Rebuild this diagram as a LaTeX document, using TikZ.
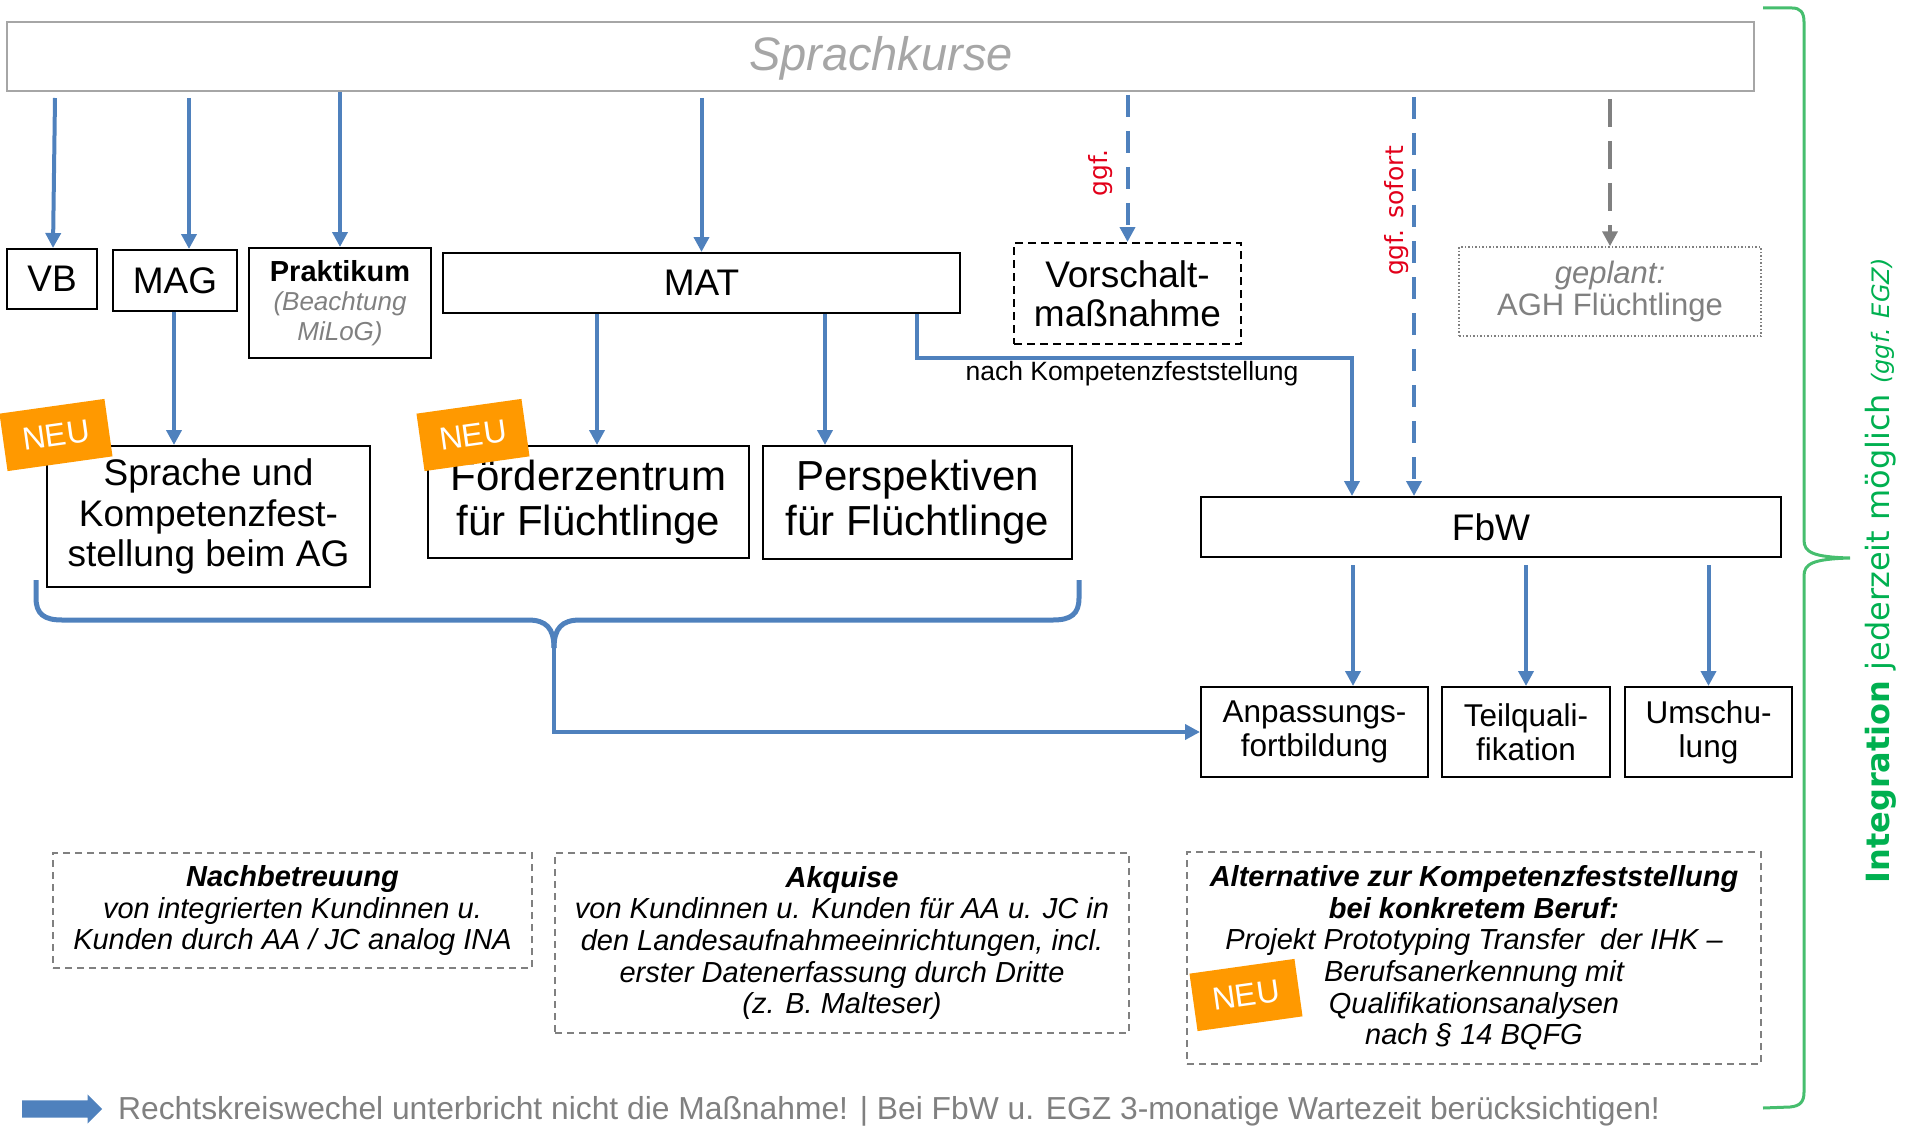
\documentclass[tikz,border=0pt]{standalone}
\usepackage{fontspec}
\setmainfont{Liberation Sans}
\newfontfamily\dvs{DejaVu Sans}
\usetikzlibrary{arrows.meta,shapes.arrows,calc}
\definecolor{myblue}{RGB}{79,129,189}
\definecolor{myorange}{RGB}{255,153,0}
\definecolor{myred}{RGB}{226,0,26}
\definecolor{mygreen}{RGB}{0,176,80}
\definecolor{bracegreen}{RGB}{70,190,110}
\definecolor{lgray}{RGB}{166,166,166}
\definecolor{dgray}{RGB}{128,128,128}
\newcommand\myfs[2]{\fontsize{#1}{#2}\selectfont}
\begin{document}
\begin{tikzpicture}[x=1pt,y=-1pt,
  box/.style={draw=black, line width=2pt, inner sep=1pt, align=center, text=black},
  arr/.style={draw=myblue, line width=4pt, -{Triangle[length=15pt,width=15pt]}},
  darr/.style={arr, dash pattern=on 22pt off 14pt},
  garr/.style={draw=dgray, line width=4pt, dash pattern=on 28pt off 14pt, -{Triangle[length=15pt,width=15pt]}},
  neu/.style={fill=myorange, text=white, minimum width=106pt, minimum height=58pt, inner sep=0pt, rotate=8, font=\myfs{32}{36}},
  infobox/.style={draw=dgray, line width=2pt, dash pattern=on 7pt off 5pt, align=center, inner sep=1pt, font=\itshape\myfs{29}{31.6}},
  redlab/.style={text=myred, rotate=90, font=\dvs\myfs{25}{28}},
  blueline/.style={draw=myblue, line width=5pt, line join=round}
]
\useasboundingbox (0,0) rectangle (1905,1126);

% top box
\node[draw=lgray, line width=2pt, minimum width=1747pt, minimum height=69pt, inner sep=0pt] (sprach) at (880.5,56.5) {};
\node[text=lgray, font=\itshape\myfs{47}{50}] (sprachtxt) at (881,58) {Sprachkurse};

% row 1
\node[box, minimum width=90pt, minimum height=60pt, font=\myfs{37}{40}] (vb) at (52,279) {VB};
\node[box, minimum width=124pt, minimum height=61pt, font=\myfs{37}{40}] (mag) at (175,280.5) {MAG};
\node[box, minimum width=182pt, minimum height=110pt, font=\myfs{29}{29.5}] (prak) at (340,303) {\textbf{Praktikum}\\{\color{dgray}\itshape\myfs{26}{29.5}(Beachtung}\\{\color{dgray}\itshape\myfs{26}{29.5}MiLoG)}};
\node[box, minimum width=517pt, minimum height=60pt, font=\myfs{37}{40}] (mat) at (701.5,283) {MAT};
\node[box, dash pattern=on 8pt off 5pt, minimum width=227pt, minimum height=101pt, font=\myfs{37}{39}] (vor) at (1127.5,293.5) {Vorschalt-\\maßnahme};
\node[draw=dgray, line width=1.5pt, dotted, minimum width=302pt, minimum height=89pt, align=center, text=dgray, font=\myfs{31}{32}] (gepl) at (1610,291.5) {\itshape geplant:\\AGH Flüchtlinge};

% row 2
\node[box, minimum width=323pt, minimum height=141pt, font=\myfs{37}{40.7}] (sprache) at (208.5,516.5) {Sprache und\\Kompetenzfest-\\stellung beim AG};
\node[box, minimum width=321pt, minimum height=112pt, font=\myfs{42}{45}] (foerder) at (588.5,502) {Förderzentrum\\für Flüchtlinge};
\node[box, minimum width=309pt, minimum height=113pt, font=\myfs{42}{45}] (persp) at (917.5,502.5) {Perspektiven\\für Flüchtlinge};
\node[box, minimum width=580pt, minimum height=60pt, font=\myfs{37}{40}] (fbw) at (1491,527) {FbW};

% row 3
\node[box, minimum width=227pt, minimum height=90pt, font=\myfs{31.5}{34}] (anp) at (1314.5,732) {Anpassungs-\\fortbildung};
\node[box, minimum width=168pt, minimum height=90pt, font=\myfs{31.5}{34}] (teil) at (1526,732) {Teilquali-\\fikation};
\node[box, minimum width=167pt, minimum height=90pt, font=\myfs{31.5}{34}] (umsch) at (1708.5,732) {Umschu-\\lung};

% NEU badges
\node[neu] (neu1) at (56,435) {NEU};
\node[neu] (neu2) at (473,435) {NEU};

% arrows from Sprachkurse
\draw[arr] ([xshift=3pt,yshift=-6pt]vb.north |- sprach.south) -- ([xshift=1pt]vb.north);
\draw[arr] ([xshift=14pt,yshift=-6pt]mag.north |- sprach.south) -- ([xshift=14pt]mag.north);
\draw[arr] (prak.north |- sprach.south) -- (prak.north);
\draw[arr] ([yshift=-6pt]mat.north |- sprach.south) -- (mat.north);
\draw[darr] ([yshift=-3pt]vor.north |- sprach.south) -- (vor.north);
\draw[darr] ([xshift=-77pt,yshift=-5pt]fbw.north |- sprach.south) -- ([xshift=-77pt]fbw.north);
\draw[garr] ([yshift=-7pt]gepl.north |- sprach.south) -- (gepl.north);
\node[redlab] (ggf1) at (1101,173) {ggf.};
\node[redlab] (ggf2) at (1397,211) {ggf. sofort};

% arrows to row 2
\draw[arr] ([xshift=-1pt]mag.south) -- ([xshift=-1pt]mag.south |- sprache.north);
\draw[arr] ([xshift=8.5pt]foerder.north |- mat.south) -- ([xshift=8.5pt]foerder.north);
\draw[arr] ([xshift=-92.5pt]persp.north |- mat.south) -- ([xshift=-92.5pt]persp.north);
\draw[arr] ([xshift=215.5pt]mat.south) -- ++(0,44) -| ([xshift=-139pt]fbw.north);
\node[font=\myfs{26.5}{28}] (nachk) at (1132,374) {nach Kompetenzfeststellung};

% FbW to row 3
\draw[arr] ([xshift=38.5pt,yshift=-7pt]fbw.south -| anp.north) -- ([xshift=38.5pt]anp.north);
\draw[arr] ([yshift=-7pt]fbw.south -| teil.north) -- (teil.north);
\draw[arr] ([yshift=-7pt]fbw.south -| umsch.north) -- (umsch.north);

% blue brace
\coordinate (bl) at (36,580);
\coordinate (br) at (1079,580);
\coordinate (btip) at (554,648);
\draw[blueline] (bl) -- (36,598) .. controls (36,614) and (44,620) .. (62,620) -- (528,620) .. controls (546,620) and (554,628) .. (btip);
\draw[blueline] (br) -- (1079,598) .. controls (1079,614) and (1071,620) .. (1053,620) -- (580,620) .. controls (562,620) and (554,628) .. (btip);
\draw[arr] (btip) |- (anp.west);

% green brace
\coordinate (gtop) at (1763,8);
\coordinate (gbot) at (1763,1108);
\draw[draw=bracegreen, line width=3pt] (gtop) -- (1792,8) .. controls (1800,8) and (1804,12) .. (1804,22) -- (1804,540) .. controls (1804,552) and (1812,557) .. (1850,558) .. controls (1812,559) and (1804,564) .. (1804,576) -- (1804,1092) .. controls (1804,1102) and (1800,1106) .. (1790,1107) -- (gbot);
\node[text=mygreen, rotate=90, font=\dvs\myfs{32}{34}] (integ) at (1881,571) {\textbf{Integration} jederzeit möglich {\itshape\myfs{24}{26}(ggf. EGZ)}};

% bottom info boxes
\node[infobox, minimum width=479pt, minimum height=115pt] (nachb) at (292.5,910.5) {\textbf{Nachbetreuung}\\von integrierten Kundinnen u.\\Kunden durch AA / JC analog INA};
\node[infobox, minimum width=574pt, minimum height=180pt] (akq) at (842,943) {\textbf{Akquise}\\von Kundinnen u. Kunden für AA u. JC in\\den Landesaufnahmeeinrichtungen, incl.\\erster Datenerfassung durch Dritte\\(z. B. Malteser)};
\node[infobox, minimum width=574pt, minimum height=212pt] (alt) at (1474,958) {\textbf{Alternative zur Kompetenzfeststellung}\\\textbf{bei konkretem Beruf:}\\Projekt Prototyping Transfer\ \ der IHK –\\Berufsanerkennung mit\\Qualifikationsanalysen\\nach § 14 BQFG};
\node[neu] (neu3) at (1246,995) {NEU};

% footer
\node[single arrow, fill=myblue, draw=none, minimum height=80pt, minimum width=29pt, single arrow head extend=6pt, inner sep=0pt, inner ysep=8.5pt, anchor=west] (farrow) at (22,1109) {};
\node[anchor=west, text=dgray, font=\myfs{31.8}{33}, inner sep=0pt] (footer) at (118,1111) {Rechtskreiswechel unterbricht nicht die Maßnahme! | Bei FbW u. EGZ 3-monatige Wartezeit berücksichtigen!};
\end{tikzpicture}
\end{document}
